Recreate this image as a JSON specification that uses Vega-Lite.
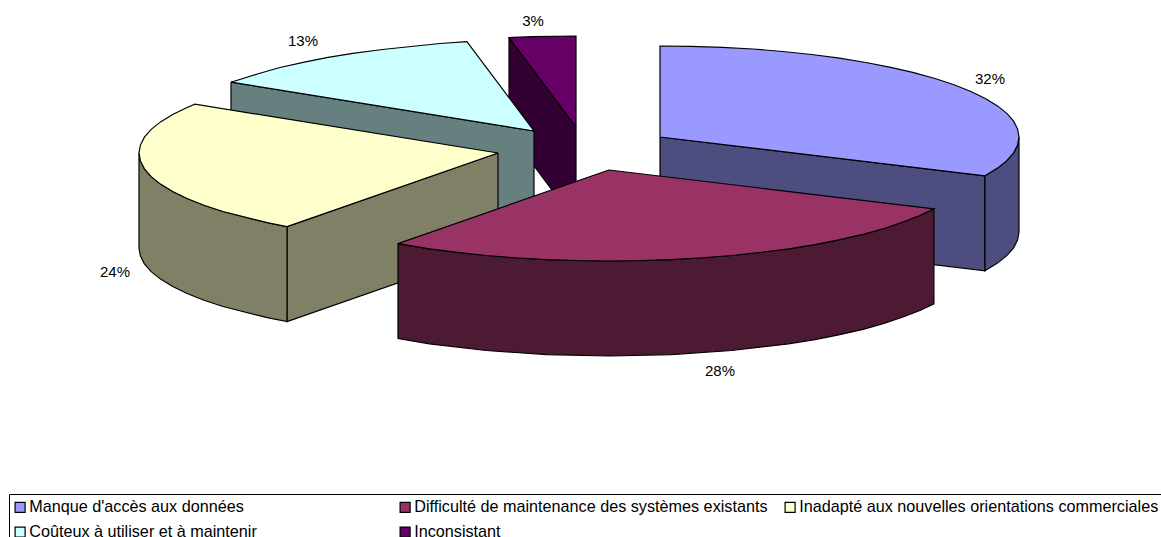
{
  "$schema": "https://vega.github.io/schema/vega-lite/v6.json",
  "width": 1161,
  "height": 537,
  "padding": 0,
  "autosize": "none",
  "background": "white",
  "config": {"view": {"stroke": null}},
  "datasets": {
    "walls": [
      {"slice":"Inconsistant","face":"w3","x":509,"y":37.6},{"slice":"Inconsistant","face":"w3","x":576,"y":127},{"slice":"Inconsistant","face":"w3","x":576,"y":222},{"slice":"Inconsistant","face":"w3","x":509,"y":132.6},{"slice":"Inconsistant","face":"w3","x":509,"y":37.6},

      {"slice":"Coûteux à utiliser et à maintenir","face":"w13","x":231,"y":82.2},{"slice":"Coûteux à utiliser et à maintenir","face":"w13","x":534,"y":131},{"slice":"Coûteux à utiliser et à maintenir","face":"w13","x":534,"y":226},{"slice":"Coûteux à utiliser et à maintenir","face":"w13","x":231,"y":177},{"slice":"Coûteux à utiliser et à maintenir","face":"w13","x":231,"y":82.2},

      {"slice":"Manque d'accès aux données","face":"w32a","x":660,"y":137},{"slice":"Manque d'accès aux données","face":"w32a","x":985,"y":175.8},{"slice":"Manque d'accès aux données","face":"w32a","x":985,"y":270.8},{"slice":"Manque d'accès aux données","face":"w32a","x":660,"y":232},{"slice":"Manque d'accès aux données","face":"w32a","x":660,"y":137},
      {"slice":"Manque d'accès aux données","face":"w32b","x":1019,"y":137},{"slice":"Manque d'accès aux données","face":"w32b","x":1017.6,"y":144.9},{"slice":"Manque d'accès aux données","face":"w32b","x":1013.6,"y":152.8},{"slice":"Manque d'accès aux données","face":"w32b","x":1006.8,"y":160.6},{"slice":"Manque d'accès aux données","face":"w32b","x":997.5,"y":168.1},{"slice":"Manque d'accès aux données","face":"w32b","x":985,"y":175.8},{"slice":"Manque d'accès aux données","face":"w32b","x":985,"y":270.8},{"slice":"Manque d'accès aux données","face":"w32b","x":997.5,"y":263.1},{"slice":"Manque d'accès aux données","face":"w32b","x":1006.8,"y":255.6},{"slice":"Manque d'accès aux données","face":"w32b","x":1013.6,"y":247.8},{"slice":"Manque d'accès aux données","face":"w32b","x":1017.6,"y":239.9},{"slice":"Manque d'accès aux données","face":"w32b","x":1019,"y":232},{"slice":"Manque d'accès aux données","face":"w32b","x":1019,"y":137},

      {"slice":"Inadapté aux nouvelles orientations commerciales","face":"w24a","x":498,"y":153},{"slice":"Inadapté aux nouvelles orientations commerciales","face":"w24a","x":287,"y":226.6},{"slice":"Inadapté aux nouvelles orientations commerciales","face":"w24a","x":287,"y":321.6},{"slice":"Inadapté aux nouvelles orientations commerciales","face":"w24a","x":498,"y":248},{"slice":"Inadapté aux nouvelles orientations commerciales","face":"w24a","x":498,"y":153},
      {"slice":"Inadapté aux nouvelles orientations commerciales","face":"w24b","x":287,"y":226.6},{"slice":"Inadapté aux nouvelles orientations commerciales","face":"w24b","x":267.2,"y":222.7},{"slice":"Inadapté aux nouvelles orientations commerciales","face":"w24b","x":223,"y":211.5},{"slice":"Inadapté aux nouvelles orientations commerciales","face":"w24b","x":204,"y":205.2},{"slice":"Inadapté aux nouvelles orientations commerciales","face":"w24b","x":187.1,"y":198.5},{"slice":"Inadapté aux nouvelles orientations commerciales","face":"w24b","x":172.7,"y":191.5},{"slice":"Inadapté aux nouvelles orientations commerciales","face":"w24b","x":160.5,"y":184.1},{"slice":"Inadapté aux nouvelles orientations commerciales","face":"w24b","x":151.2,"y":176.6},{"slice":"Inadapté aux nouvelles orientations commerciales","face":"w24b","x":144.4,"y":168.8},{"slice":"Inadapté aux nouvelles orientations commerciales","face":"w24b","x":140.4,"y":160.9},{"slice":"Inadapté aux nouvelles orientations commerciales","face":"w24b","x":139,"y":153},{"slice":"Inadapté aux nouvelles orientations commerciales","face":"w24b","x":139,"y":248},{"slice":"Inadapté aux nouvelles orientations commerciales","face":"w24b","x":140.4,"y":255.9},{"slice":"Inadapté aux nouvelles orientations commerciales","face":"w24b","x":144.4,"y":263.8},{"slice":"Inadapté aux nouvelles orientations commerciales","face":"w24b","x":151.2,"y":271.6},{"slice":"Inadapté aux nouvelles orientations commerciales","face":"w24b","x":160.5,"y":279.1},{"slice":"Inadapté aux nouvelles orientations commerciales","face":"w24b","x":172.7,"y":286.5},{"slice":"Inadapté aux nouvelles orientations commerciales","face":"w24b","x":187.1,"y":293.5},{"slice":"Inadapté aux nouvelles orientations commerciales","face":"w24b","x":204,"y":300.2},{"slice":"Inadapté aux nouvelles orientations commerciales","face":"w24b","x":223,"y":306.5},{"slice":"Inadapté aux nouvelles orientations commerciales","face":"w24b","x":267.2,"y":317.7},{"slice":"Inadapté aux nouvelles orientations commerciales","face":"w24b","x":287,"y":321.6},{"slice":"Inadapté aux nouvelles orientations commerciales","face":"w24b","x":287,"y":226.6},

      {"slice":"Difficulté de maintenance des systèmes existants","face":"w28","x":933.9,"y":208.8},{"slice":"Difficulté de maintenance des systèmes existants","face":"w28","x":919.9,"y":215.5},{"slice":"Difficulté de maintenance des systèmes existants","face":"w28","x":903,"y":222},{"slice":"Difficulté de maintenance des systèmes existants","face":"w28","x":884,"y":228.5},{"slice":"Difficulté de maintenance des systèmes existants","face":"w28","x":863,"y":234.4},{"slice":"Difficulté de maintenance des systèmes existants","face":"w28","x":839.8,"y":239.7},{"slice":"Difficulté de maintenance des systèmes existants","face":"w28","x":815,"y":244.6},{"slice":"Difficulté de maintenance des systèmes existants","face":"w28","x":788.5,"y":248.8},{"slice":"Difficulté de maintenance des systèmes existants","face":"w28","x":731.8,"y":255.5},{"slice":"Difficulté de maintenance des systèmes existants","face":"w28","x":671.3,"y":259.6},{"slice":"Difficulté de maintenance des systèmes existants","face":"w28","x":609,"y":261},{"slice":"Difficulté de maintenance des systèmes existants","face":"w28","x":546.7,"y":259.6},{"slice":"Difficulté de maintenance des systèmes existants","face":"w28","x":486.2,"y":255.5},{"slice":"Difficulté de maintenance des systèmes existants","face":"w28","x":429.5,"y":248.8},{"slice":"Difficulté de maintenance des systèmes existants","face":"w28","x":398,"y":243.6},{"slice":"Difficulté de maintenance des systèmes existants","face":"w28","x":398,"y":338.6},{"slice":"Difficulté de maintenance des systèmes existants","face":"w28","x":429.5,"y":343.8},{"slice":"Difficulté de maintenance des systèmes existants","face":"w28","x":486.2,"y":350.5},{"slice":"Difficulté de maintenance des systèmes existants","face":"w28","x":546.7,"y":354.6},{"slice":"Difficulté de maintenance des systèmes existants","face":"w28","x":609,"y":356},{"slice":"Difficulté de maintenance des systèmes existants","face":"w28","x":671.3,"y":354.6},{"slice":"Difficulté de maintenance des systèmes existants","face":"w28","x":731.8,"y":350.5},{"slice":"Difficulté de maintenance des systèmes existants","face":"w28","x":788.5,"y":343.8},{"slice":"Difficulté de maintenance des systèmes existants","face":"w28","x":815,"y":339.6},{"slice":"Difficulté de maintenance des systèmes existants","face":"w28","x":839.8,"y":334.7},{"slice":"Difficulté de maintenance des systèmes existants","face":"w28","x":863,"y":329.4},{"slice":"Difficulté de maintenance des systèmes existants","face":"w28","x":884,"y":323.5},{"slice":"Difficulté de maintenance des systèmes existants","face":"w28","x":903,"y":317},{"slice":"Difficulté de maintenance des systèmes existants","face":"w28","x":919.9,"y":310.5},{"slice":"Difficulté de maintenance des systèmes existants","face":"w28","x":933.9,"y":303.8},{"slice":"Difficulté de maintenance des systèmes existants","face":"w28","x":933.9,"y":208.8}
    ],
    "tops": [
      {"slice":"Inconsistant","x":576,"y":127},{"slice":"Inconsistant","x":509,"y":37.6},{"slice":"Inconsistant","x":532,"y":36.7},{"slice":"Inconsistant","x":576,"y":36},{"slice":"Inconsistant","x":576,"y":127},

      {"slice":"Coûteux à utiliser et à maintenir","x":534,"y":131},{"slice":"Coûteux à utiliser et à maintenir","x":231,"y":82.2},{"slice":"Coûteux à utiliser et à maintenir","x":259,"y":73.5},{"slice":"Coûteux à utiliser et à maintenir","x":280,"y":67.5},{"slice":"Coûteux à utiliser et à maintenir","x":303.2,"y":62.3},{"slice":"Coûteux à utiliser et à maintenir","x":328,"y":57.4},{"slice":"Coûteux à utiliser et à maintenir","x":354.5,"y":53.2},{"slice":"Coûteux à utiliser et à maintenir","x":382.5,"y":49.5},{"slice":"Coûteux à utiliser et à maintenir","x":411.2,"y":46.5},{"slice":"Coûteux à utiliser et à maintenir","x":440,"y":43.5},{"slice":"Coûteux à utiliser et à maintenir","x":466.9,"y":41.6},{"slice":"Coûteux à utiliser et à maintenir","x":534,"y":131},

      {"slice":"Manque d'accès aux données","x":660,"y":137},{"slice":"Manque d'accès aux données","x":660,"y":46},{"slice":"Manque d'accès aux données","x":691,"y":46.4},{"slice":"Manque d'accès aux données","x":722.3,"y":47.4},{"slice":"Manque d'accès aux données","x":752.9,"y":49},{"slice":"Manque d'accès aux données","x":782.8,"y":51.5},{"slice":"Manque d'accès aux données","x":811.7,"y":54.5},{"slice":"Manque d'accès aux données","x":839.5,"y":58.2},{"slice":"Manque d'accès aux données","x":865.9,"y":62.5},{"slice":"Manque d'accès aux données","x":890.8,"y":67.3},{"slice":"Manque d'accès aux données","x":913.8,"y":72.7},{"slice":"Manque d'accès aux données","x":935,"y":78.5},{"slice":"Manque d'accès aux données","x":954,"y":84.8},{"slice":"Manque d'accès aux données","x":970.9,"y":91.5},{"slice":"Manque d'accès aux données","x":985.3,"y":98.5},{"slice":"Manque d'accès aux données","x":997.5,"y":105.9},{"slice":"Manque d'accès aux données","x":1006.8,"y":113.4},{"slice":"Manque d'accès aux données","x":1013.6,"y":121.2},{"slice":"Manque d'accès aux données","x":1017.6,"y":129.1},{"slice":"Manque d'accès aux données","x":1019,"y":137},{"slice":"Manque d'accès aux données","x":1017.6,"y":144.9},{"slice":"Manque d'accès aux données","x":1013.6,"y":152.8},{"slice":"Manque d'accès aux données","x":1006.8,"y":160.6},{"slice":"Manque d'accès aux données","x":997.5,"y":168.1},{"slice":"Manque d'accès aux données","x":985,"y":175.8},{"slice":"Manque d'accès aux données","x":660,"y":137},

      {"slice":"Inadapté aux nouvelles orientations commerciales","x":498,"y":153},{"slice":"Inadapté aux nouvelles orientations commerciales","x":287,"y":226.6},{"slice":"Inadapté aux nouvelles orientations commerciales","x":267.2,"y":222.7},{"slice":"Inadapté aux nouvelles orientations commerciales","x":223,"y":211.5},{"slice":"Inadapté aux nouvelles orientations commerciales","x":204,"y":205.2},{"slice":"Inadapté aux nouvelles orientations commerciales","x":187.1,"y":198.5},{"slice":"Inadapté aux nouvelles orientations commerciales","x":172.7,"y":191.5},{"slice":"Inadapté aux nouvelles orientations commerciales","x":160.5,"y":184.1},{"slice":"Inadapté aux nouvelles orientations commerciales","x":151.2,"y":176.6},{"slice":"Inadapté aux nouvelles orientations commerciales","x":144.4,"y":168.8},{"slice":"Inadapté aux nouvelles orientations commerciales","x":140.4,"y":160.9},{"slice":"Inadapté aux nouvelles orientations commerciales","x":139,"y":153},{"slice":"Inadapté aux nouvelles orientations commerciales","x":140.4,"y":145.1},{"slice":"Inadapté aux nouvelles orientations commerciales","x":144.4,"y":137.2},{"slice":"Inadapté aux nouvelles orientations commerciales","x":151.2,"y":129.4},{"slice":"Inadapté aux nouvelles orientations commerciales","x":160.5,"y":121.9},{"slice":"Inadapté aux nouvelles orientations commerciales","x":172.7,"y":114.5},{"slice":"Inadapté aux nouvelles orientations commerciales","x":187.1,"y":107.5},{"slice":"Inadapté aux nouvelles orientations commerciales","x":195,"y":104.2},{"slice":"Inadapté aux nouvelles orientations commerciales","x":498,"y":153},

      {"slice":"Difficulté de maintenance des systèmes existants","x":609,"y":170},{"slice":"Difficulté de maintenance des systèmes existants","x":933.9,"y":208.8},{"slice":"Difficulté de maintenance des systèmes existants","x":919.9,"y":215.5},{"slice":"Difficulté de maintenance des systèmes existants","x":903,"y":222},{"slice":"Difficulté de maintenance des systèmes existants","x":884,"y":228.5},{"slice":"Difficulté de maintenance des systèmes existants","x":863,"y":234.4},{"slice":"Difficulté de maintenance des systèmes existants","x":839.8,"y":239.7},{"slice":"Difficulté de maintenance des systèmes existants","x":815,"y":244.6},{"slice":"Difficulté de maintenance des systèmes existants","x":788.5,"y":248.8},{"slice":"Difficulté de maintenance des systèmes existants","x":760.8,"y":252.4},{"slice":"Difficulté de maintenance des systèmes existants","x":731.8,"y":255.5},{"slice":"Difficulté de maintenance des systèmes existants","x":701.9,"y":257.9},{"slice":"Difficulté de maintenance des systèmes existants","x":671.3,"y":259.6},{"slice":"Difficulté de maintenance des systèmes existants","x":640.3,"y":260.7},{"slice":"Difficulté de maintenance des systèmes existants","x":609,"y":261},{"slice":"Difficulté de maintenance des systèmes existants","x":577.7,"y":260.7},{"slice":"Difficulté de maintenance des systèmes existants","x":546.7,"y":259.6},{"slice":"Difficulté de maintenance des systèmes existants","x":516.1,"y":257.9},{"slice":"Difficulté de maintenance des systèmes existants","x":486.2,"y":255.5},{"slice":"Difficulté de maintenance des systèmes existants","x":457.2,"y":252.4},{"slice":"Difficulté de maintenance des systèmes existants","x":429.5,"y":248.8},{"slice":"Difficulté de maintenance des systèmes existants","x":398,"y":243.6},{"slice":"Difficulté de maintenance des systèmes existants","x":609,"y":170}
    ],
    "shares": [
      {"slice":"Manque d'accès aux données","share":0.32,"x":990,"y":79},
      {"slice":"Difficulté de maintenance des systèmes existants","share":0.28,"x":720,"y":371},
      {"slice":"Inadapté aux nouvelles orientations commerciales","share":0.24,"x":115,"y":272},
      {"slice":"Coûteux à utiliser et à maintenir","share":0.13,"x":303,"y":41},
      {"slice":"Inconsistant","share":0.03,"x":533,"y":21}
    ]
  },
  "layer": [
    {
      "data": {"name": "walls"},
      "mark": {"type": "line", "stroke": "black", "strokeWidth": 1.2, "strokeJoin": "miter", "clip": false},
      "encoding": {
        "x": {"field": "x", "type": "quantitative", "scale": {"domain": [0, 1161]}, "axis": null},
        "y": {"field": "y", "type": "quantitative", "scale": {"domain": [537, 0]}, "axis": null},
        "detail": {"field": "face"},
        "order": {"value": null},
        "fill": {
          "field": "slice", "type": "nominal", "legend": null,
          "scale": {
            "domain": ["Manque d'accès aux données", "Difficulté de maintenance des systèmes existants", "Inadapté aux nouvelles orientations commerciales", "Coûteux à utiliser et à maintenir", "Inconsistant"],
            "range": ["#4D4D80", "#4D1A33", "#808066", "#668080", "#330033"]
          }
        }
      }
    },
    {
      "data": {"name": "tops"},
      "mark": {"type": "line", "stroke": "black", "strokeWidth": 1.2, "strokeJoin": "miter", "clip": false},
      "encoding": {
        "x": {"field": "x", "type": "quantitative", "scale": {"domain": [0, 1161]}, "axis": null},
        "y": {"field": "y", "type": "quantitative", "scale": {"domain": [537, 0]}, "axis": null},
        "order": {"value": null},
        "fill": {
          "field": "slice", "type": "nominal",
          "scale": {
            "domain": ["Manque d'accès aux données", "Difficulté de maintenance des systèmes existants", "Inadapté aux nouvelles orientations commerciales", "Coûteux à utiliser et à maintenir", "Inconsistant"],
            "range": ["#9999FF", "#993366", "#FFFFCC", "#CCFFFF", "#660066"]
          },
          "legend": {
            "title": null,
            "orient": "none",
            "legendX": 9,
            "legendY": 494,
            "columns": 3,
            "gridAlign": "all",
            "direction": "horizontal",
            "symbolType": "square",
            "symbolSize": 100,
            "symbolOffset": -2,
            "symbolStrokeColor": "black",
            "symbolStrokeWidth": 1.2,
            "symbolOpacity": 1,
            "labelFont": "Liberation Sans",
            "labelFontSize": 16.2,
            "labelColor": "black",
            "labelLimit": 500,
            "labelOffset": 1,
            "fillColor": "white",
            "strokeColor": "black",
            "padding": 5,
            "rowPadding": 8,
            "columnPadding": 8
          }
        }
      }
    },
    {
      "data": {"name": "shares"},
      "mark": {"type": "text", "font": "Liberation Sans", "fontSize": 15, "color": "black", "align": "center", "baseline": "middle"},
      "encoding": {
        "x": {"field": "x", "type": "quantitative", "scale": {"domain": [0, 1161]}, "axis": null},
        "y": {"field": "y", "type": "quantitative", "scale": {"domain": [537, 0]}, "axis": null},
        "text": {"field": "share", "type": "quantitative", "format": ".0%"}
      }
    }
  ],
  "resolve": {"scale": {"fill": "independent"}}
}
